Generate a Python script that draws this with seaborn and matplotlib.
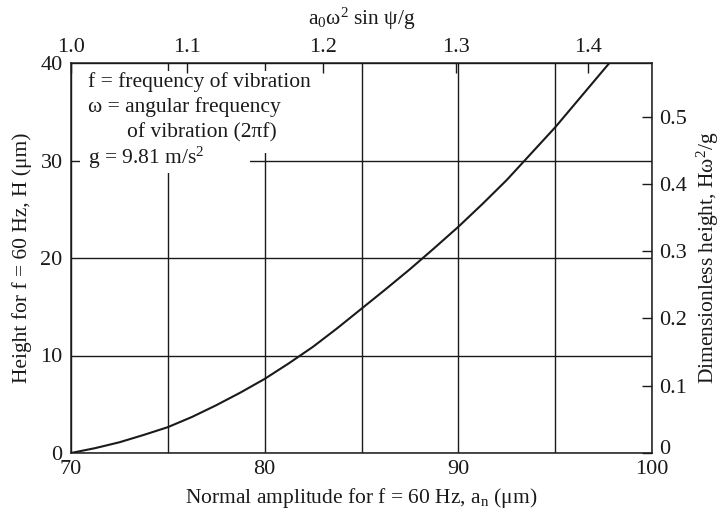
import numpy as np
import pandas as pd
import seaborn as sns
import matplotlib
matplotlib.use("Agg")
import matplotlib.pyplot as plt
from matplotlib.patches import Rectangle
from matplotlib.transforms import ScaledTranslation

# ---- data ----
amplitude_um = [70, 71.25, 72.5, 73.75, 75, 76.25, 77.5, 78.75, 80, 81.25, 82.5,
                83.75, 85, 86.25, 87.5, 88.75, 90, 91.25, 92.5, 93.75, 95, 96.4, 97.8]
height_um = [0, 0.5, 1.1, 1.85, 2.65, 3.7, 4.9, 6.2, 7.6, 9.2, 10.9,
             12.8, 14.8, 16.8, 18.85, 21.0, 23.2, 25.55, 28.0, 30.7, 33.4, 36.7, 40.0]

bottom_ticks = [70, 80, 90, 100]
bottom_minor = [75, 85, 95]
left_ticks = [0, 10, 20, 30, 40]

top_tick_labels = ["1.0", "1.1", "1.2", "1.3", "1.4"]
top_tick_pos = [70.0, 76.0, 83.0, 89.9, 96.7]      # a_n positions of the top scale

right_tick_vals = [0, 0.1, 0.2, 0.3, 0.4, 0.5]
omega = 2 * np.pi * 60.0
g = 9.81
h_to_dimless = 1e-6 * omega ** 2 / g              # H (um) -> H*omega^2/g

legend_lines = ["f = frequency of vibration",
                "ω = angular frequency",
                "of vibration (2πf)",
                r"g = 9.81 m/s$^2$"]

df = pd.DataFrame({"a_n": amplitude_um, "H": height_um})

# ---- style ----
sns.set_theme(style="white")
plt.rcParams["font.family"] = ["Liberation Serif", "DejaVu Serif"]
plt.rcParams["mathtext.fontset"] = "custom"
plt.rcParams["mathtext.rm"] = "Liberation Serif"
plt.rcParams["mathtext.it"] = "Liberation Serif:italic"
plt.rcParams["mathtext.bf"] = "Liberation Serif:bold"
plt.rcParams["axes.unicode_minus"] = False

FS_TICK = 16
FS_LAB = 15.5
FS_TXT = 15.5
INK = "#1a1a1a"

fig = plt.figure(figsize=(7.25, 5.15), dpi=100)
W, Hpx = 725, 515
x0, x1, y0, y1 = 71, 652, 63, 453
ax = fig.add_axes([x0 / W, 1 - y1 / Hpx, (x1 - x0) / W, (y1 - y0) / Hpx])

sns.lineplot(data=df, x="a_n", y="H", ax=ax, color=INK, linewidth=1.5, zorder=3)

ax.set_xlim(70, 100)
ax.set_ylim(0, 40)
ax.set_xticks(bottom_ticks)
ax.set_xticks(bottom_minor, minor=True)
ax.set_yticks(left_ticks)
ax.grid(True, which="both", axis="x", color=INK, linewidth=1.0)
ax.grid(True, which="major", axis="y", color=INK, linewidth=1.0)
ax.set_axisbelow(True)
ax.tick_params(axis="both", which="both", direction="in", length=0,
               labelsize=FS_TICK, colors=INK)
ax.tick_params(axis="x", pad=5)
ax.tick_params(axis="y", pad=6)
ax.set_xlabel(r"Normal amplitude for f = 60 Hz, a$_\mathrm{n}$ (μm)", fontsize=FS_LAB,
              color=INK, labelpad=5)
ax.set_ylabel("Height for f = 60 Hz, H (μm)", fontsize=FS_LAB, color=INK, labelpad=6)
for s in ax.spines.values():
    s.set_color(INK)
    s.set_linewidth(1.1)

# white masks behind the legend text (hide the grid there)
def px_to_ax(px, py):
    return (px - x0) / (x1 - x0), (y1 - py) / (y1 - y0)

ax_w = x1 - x0
ax_h = y1 - y0
bx, by = px_to_ax(80, 153)
ax.add_patch(Rectangle((bx, by), (322 - 80) / ax_w, (153 - 71) / ax_h,
                       transform=ax.transAxes, fc="white", ec="none", zorder=2))
bx, by = px_to_ax(80, 173)
ax.add_patch(Rectangle((bx, by), (250 - 80) / ax_w, (173 - 148) / ax_h,
                       transform=ax.transAxes, fc="white", ec="none", zorder=2))

text_pos = [(88, 82), (88, 107), (127, 133), (88, 158)]
for line, (px, py) in zip(legend_lines, text_pos):
    tx, ty = px_to_ax(px, py)
    ax.text(tx, ty, line, transform=ax.transAxes, fontsize=FS_TXT, color=INK,
            ha="left", va="center", zorder=4)

# top scale
axt = ax.twiny()
axt.set_xlim(ax.get_xlim())
axt.set_xticks(top_tick_pos)
axt.set_xticklabels(top_tick_labels)
axt.tick_params(axis="x", direction="in", length=7, width=1.0, labelsize=FS_TICK,
                colors=INK, pad=4)
axt.set_xlabel(r"a$_0$ω$^2$ sin ψ/g", fontsize=FS_LAB, color=INK, labelpad=10)
axt.grid(False)
for s in axt.spines.values():
    s.set_visible(False)

# right scale
axr = ax.twinx()
axr.set_ylim(ax.get_ylim())
axr.set_yticks([v / h_to_dimless for v in right_tick_vals])
axr.set_yticklabels(["0" if v == 0 else f"{v:.1f}" for v in right_tick_vals])
axr.tick_params(axis="y", direction="in", length=7, width=1.0, labelsize=FS_TICK,
                colors=INK, pad=5)
axr.set_ylabel(r"Dimensionless height, Hω$^2$/g", fontsize=FS_LAB, color=INK, labelpad=6)
axr.grid(False)
for s in axr.spines.values():
    s.set_visible(False)

# lift the right-hand "0" a little so it clears the "100" below it
zero_lbl = axr.yaxis.get_major_ticks()[0].label2
zero_lbl.set_transform(zero_lbl.get_transform()
                       + ScaledTranslation(0, 6 / 100, fig.dpi_scale_trans))

fig.savefig("out.png", dpi=100)
